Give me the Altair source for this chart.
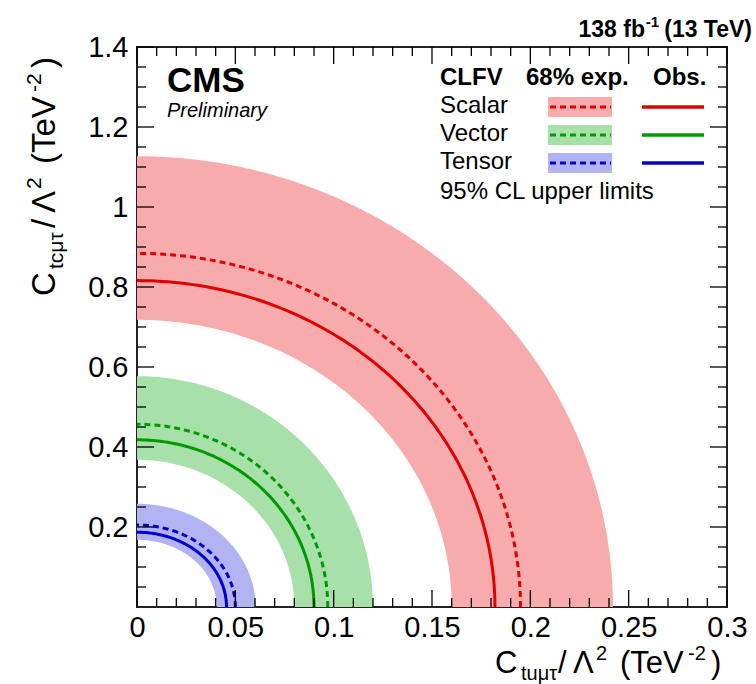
import altair as alt
import pandas as pd

# ---------------- data ----------------
models = ["Scalar", "Vector", "Tensor"]
obs_x = [0.182, 0.090, 0.0455]
obs_y = [0.816, 0.418, 0.187]
exp_x = [0.195, 0.097, 0.050]
exp_y = [0.884, 0.457, 0.205]
band_lo_x = [0.160, 0.080, 0.0405]
band_lo_y = [0.718, 0.368, 0.168]
band_hi_x = [0.242, 0.120, 0.0603]
band_hi_y = [1.127, 0.577, 0.258]

band_colors = ["#F8ABAD", "#A8E0AA", "#B3B3F3"]
line_colors = ["#E00000", "#009A00", "#0000D0"]

x_major = [0, 0.05, 0.1, 0.15, 0.2, 0.25, 0.3]
x_minor = [0.01, 0.02, 0.03, 0.04, 0.06, 0.07, 0.08, 0.09, 0.11, 0.12, 0.13, 0.14,
           0.16, 0.17, 0.18, 0.19, 0.21, 0.22, 0.23, 0.24, 0.26, 0.27, 0.28, 0.29]
y_major = [0.2, 0.4, 0.6, 0.8, 1.0, 1.2, 1.4]
y_minor = [0.05, 0.1, 0.15, 0.25, 0.3, 0.35, 0.45, 0.5, 0.55, 0.65, 0.7, 0.75,
           0.85, 0.9, 0.95, 1.05, 1.1, 1.15, 1.25, 1.3, 1.35]

angles = list(range(0, 91))  # sampling grid (degrees) along each quarter ellipse

W, H = 590, 560
FONT = "Liberation Sans"

# ---------------- tables ----------------
curves = pd.DataFrame({
    "model": models * 2,
    "kind": ["obs"] * 3 + ["exp"] * 3,
    "a": obs_x + exp_x,
    "b": obs_y + exp_y,
})
ang = pd.DataFrame({"t": angles})
curve_pts = curves.merge(ang, how="cross")

bands = pd.DataFrame({
    "model": models, "A": band_hi_x, "B": band_hi_y, "a": band_lo_x, "b": band_lo_y,
})
srcs = pd.DataFrame({"src": ["outer", "inner"]})
band_pts = bands.merge(srcs, how="cross").merge(ang, how="cross")

xscale = alt.Scale(domain=[0, 0.3], nice=False, zero=False)
yscale = alt.Scale(domain=[0, 1.4], nice=False, zero=False)
xaxis = alt.Axis(values=x_major, format="~g", labelFontSize=29, labelFont=FONT,
                 labelColor="black", ticks=False, domain=False, grid=False,
                 title=None, labelPadding=6, labelFlush=False, labelOverlap=False)
yaxis = alt.Axis(values=y_major, format="~g", labelFontSize=29, labelFont=FONT,
                 labelColor="black", ticks=False, domain=False, grid=False,
                 title=None, labelPadding=9, labelFlush=False, labelOverlap=False)
col_band = alt.Color("model:N", scale=alt.Scale(domain=models, range=band_colors), legend=None)
col_line = alt.Stroke("model:N", scale=alt.Scale(domain=models, range=line_colors), legend=None)

band_layer = alt.Chart(band_pts).transform_calculate(
    x="datum.src == 'outer' ? datum.A * cos(datum.t * PI / 180) : datum.a * cos(datum.t * PI / 180)"
).transform_calculate(
    ytop="datum.B * sqrt(max(0, 1 - pow(datum.x / datum.A, 2)))",
    ybot="datum.x < datum.a ? datum.b * sqrt(max(0, 1 - pow(datum.x / datum.a, 2))) : 0",
).mark_area(opacity=1, clip=True).encode(
    x=alt.X("x:Q", scale=xscale, axis=xaxis),
    y=alt.Y("ytop:Q", scale=yscale, axis=yaxis),
    y2="ybot:Q",
    color=col_band,
    detail="model:N",
)


def curve_layer(kind, dash):
    kw = dict(strokeWidth=3, clip=True)
    if dash:
        kw["strokeDash"] = [6, 4]
    return alt.Chart(curve_pts).transform_filter(
        f"datum.kind == '{kind}'"
    ).transform_calculate(
        x="datum.a * cos(datum.t * PI / 180)",
        y="datum.b * sin(datum.t * PI / 180)",
    ).mark_line(**kw).encode(
        x=alt.X("x:Q", scale=xscale, axis=xaxis),
        y=alt.Y("y:Q", scale=yscale, axis=yaxis),
        stroke=col_line,
        detail="model:N",
        order="t:Q",
    )


obs_layer = curve_layer("obs", False)
exp_layer = curve_layer("exp", True)

# ---------------- inward ticks on all four sides ----------------
def xticks(vals, length):
    d = pd.DataFrame({"v": vals})
    bot = alt.Chart(d).mark_rule(color="black", strokeWidth=1.3).encode(
        x=alt.X("v:Q", scale=xscale, axis=xaxis), y=alt.value(H), y2=alt.value(H - length))
    top = alt.Chart(d).mark_rule(color="black", strokeWidth=1.3).encode(
        x=alt.X("v:Q", scale=xscale, axis=xaxis), y=alt.value(0), y2=alt.value(length))
    return [bot, top]


def yticks(vals, length):
    d = pd.DataFrame({"v": vals})
    left = alt.Chart(d).mark_rule(color="black", strokeWidth=1.3).encode(
        y=alt.Y("v:Q", scale=yscale, axis=yaxis), x=alt.value(0), x2=alt.value(length))
    right = alt.Chart(d).mark_rule(color="black", strokeWidth=1.3).encode(
        y=alt.Y("v:Q", scale=yscale, axis=yaxis), x=alt.value(W), x2=alt.value(W - length))
    return [left, right]


tick_layers = xticks(x_major, 17) + xticks(x_minor, 9) + yticks(y_major, 17) + yticks(y_minor, 9)

one = pd.DataFrame({"d": [0]})


def txt(s, x, y, size, weight="normal", style="normal", align="left", angle=0):
    kw = dict(text=s, font=FONT, fontSize=size, fontWeight=weight, fontStyle=style,
              align=align, baseline="alphabetic", color="black")
    if angle:
        kw["angle"] = angle
    return alt.Chart(one).mark_text(**kw).encode(x=alt.value(x), y=alt.value(y))


ox, oy = 137, 47  # plot origin on page

texts = []
# x-axis title
bx = 673 - oy
texts += [
    txt("C", 495 - ox, bx, 31),
    txt("tuμτ", 521 - ox, bx + 7, 20),
    txt("/", 558 - ox, bx, 31),
    txt("Λ", 573 - ox, bx, 31),
    txt("2", 596 - ox, bx - 13, 20),
    txt("(TeV", 620 - ox, bx, 31),
    txt("-2", 688 - ox, bx - 13, 20),
    txt(")", 711 - ox, bx, 31),
]
# y-axis title (rotated)
yb = 55 - ox
Y0 = 296 - oy
texts += [
    txt("C", yb, Y0, 33, angle=270),
    txt("tcμτ", yb + 8, Y0 - 27, 21, angle=270),
    txt("/", yb, Y0 - 68, 33, angle=270),
    txt("Λ", yb, Y0 - 83, 33, angle=270),
    txt("2", yb - 14, Y0 - 107, 21, angle=270),
    txt("(TeV", yb, Y0 - 132, 33, angle=270),
    txt("-2", yb - 14, Y0 - 204, 21, angle=270),
    txt(")", yb, Y0 - 228, 33, angle=270),
]
# top-right luminosity label
texts += [
    txt("(13 TeV)", 752 - ox, 37 - oy, 23, weight="bold", align="right"),
    txt("-1", 659 - ox, 27 - oy, 15, weight="bold", align="right"),
    txt("138 fb", 645 - ox, 37 - oy, 23, weight="bold", align="right"),
]
# CMS label
texts += [
    txt("CMS", 167 - ox, 92 - oy, 35, weight="bold"),
    txt("Preliminary", 167 - ox, 117 - oy, 20, style="italic"),
]
# legend header
texts += [
    txt("CLFV", 440 - ox, 85 - oy, 24, weight="bold"),
    txt("68% exp.", 526 - ox, 85 - oy, 24, weight="bold"),
    txt("Obs.", 653 - ox, 85 - oy, 24, weight="bold"),
    txt("95% CL upper limits", 440 - ox, 199 - oy, 24),
]
legend_layers = []
for i, m in enumerate(models):
    cy = 107 - oy + 28 * i
    legend_layers += [
        alt.Chart(one).mark_rect(color=band_colors[i]).encode(
            x=alt.value(548 - ox), x2=alt.value(612 - ox),
            y=alt.value(cy - 10), y2=alt.value(cy + 10)),
        alt.Chart(one).mark_rule(color=line_colors[i], strokeWidth=3, strokeDash=[6, 4]).encode(
            x=alt.value(550 - ox), x2=alt.value(611 - ox), y=alt.value(cy)),
        alt.Chart(one).mark_rule(color=line_colors[i], strokeWidth=3.5).encode(
            x=alt.value(642 - ox), x2=alt.value(704 - ox), y=alt.value(cy)),
        txt(m, 440 - ox, cy + 6, 24),
    ]

chart = alt.layer(
    band_layer, exp_layer, obs_layer, *tick_layers, *legend_layers, *texts
).resolve_scale(
    color="independent", stroke="independent"
).properties(
    width=W, height=H,
    padding={"left": ox, "top": oy, "right": 756 - ox - W, "bottom": 684 - oy - H},
    autosize=alt.AutoSizeParams(type="none"),
    background="white",
).configure_view(stroke="#222222", strokeWidth=2)

chart.save("out.html", embed_options={"renderer": "svg", "actions": False})
